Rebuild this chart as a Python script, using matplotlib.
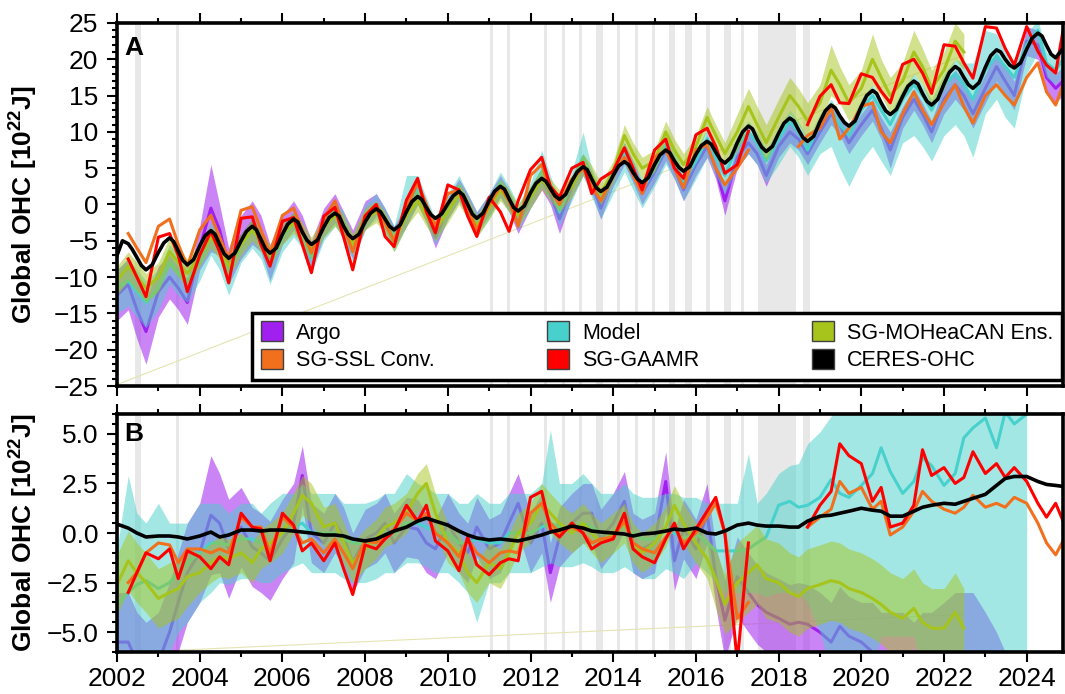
import numpy as np
import matplotlib
matplotlib.use('Agg')
import matplotlib.pyplot as plt
from matplotlib.patches import Patch
from matplotlib.ticker import MultipleLocator, FuncFormatter

plt.rcParams['font.family'] = ['Liberation Sans', 'DejaVu Sans']
plt.rcParams['mathtext.fontset'] = 'custom'
plt.rcParams['mathtext.rm'] = 'Liberation Sans:bold'
plt.rcParams['mathtext.it'] = 'Liberation Sans:bold'
plt.rcParams['mathtext.bf'] = 'Liberation Sans:bold'
plt.rcParams['mathtext.default'] = 'rm'

nan = np.nan

# sampling: 4 points per year (plus one at the right edge), 8 per year for CERES in A
years = np.arange(2002, 2025)
q_off = [0.0, 0.27, 0.48, 0.70]
s_off = [0.0, 0.13, 0.27, 0.37, 0.48, 0.59, 0.70, 0.85]
t_end = 2024.88
t_q = np.append(np.add.outer(years, q_off).ravel(), t_end)
t_s = np.add.outer(years, s_off).ravel()

# GRACE gaps (grey shading)
gaps = [(2002.43, 2002.59), (2003.43, 2003.51), (2011.01, 2011.09), (2011.43, 2011.51),
        (2012.33, 2012.41), (2012.75, 2012.83), (2013.17, 2013.24), (2013.59, 2013.75),
        (2014.09, 2014.16), (2014.52, 2014.59), (2014.94, 2015.02), (2015.34, 2015.50),
        (2015.74, 2015.91), (2016.25, 2016.33), (2016.67, 2016.85), (2017.09, 2017.17),
        (2017.50, 2018.43), (2018.58, 2018.77)]

# ---------------- panel A ----------------
ceres_a = [
    -7.0, -5.0, -5.4, -6.2, -7.3, -8.4, -9.0, -8.3,
    -6.6, -5.3, -4.6, -5.1, -6.4, -7.7, -8.3, -7.6,
    -5.7, -4.3, -3.6, -4.1, -5.5, -6.8, -7.4, -6.7,
    -5.0, -3.7, -3.0, -3.5, -4.8, -6.1, -6.7, -6.0,
    -4.1, -2.7, -2.0, -2.4, -3.8, -4.9, -5.5, -4.9,
    -3.1, -1.8, -1.2, -1.6, -3.0, -4.1, -4.7, -4.1,
    -2.4, -1.2, -0.6, -1.0, -2.0, -3.0, -3.5, -2.8,
    -1.0, 0.4, 1.1, 0.7, -0.4, -1.4, -1.9, -1.3,
    0.1, 1.2, 1.8, 1.3, 0.0, -1.3, -1.9, -1.2,
    0.5, 1.8, 2.5, 2.1, 0.8, -0.4, -0.9, -0.2,
    1.6, 2.9, 3.6, 3.2, 2.2, 1.2, 0.7, 1.4,
    3.2, 4.5, 5.2, 4.8, 3.5, 2.3, 1.8, 2.4,
    4.0, 5.3, 5.9, 5.5, 4.4, 3.5, 3.0, 3.7,
    5.5, 6.8, 7.5, 7.1, 6.0, 5.1, 4.6, 5.2,
    6.9, 8.1, 8.7, 8.3, 7.2, 6.2, 5.7, 6.5,
    8.5, 10.0, 10.8, 10.4, 9.0, 7.9, 7.3, 8.0,
    9.8, 11.2, 11.9, 11.5, 10.3, 9.2, 8.7, 9.4,
    11.4, 12.9, 13.7, 13.3, 12.2, 11.3, 10.8, 11.5,
    13.5, 15.0, 15.7, 15.3, 14.0, 12.9, 12.4, 13.1,
    14.9, 16.3, 17.0, 16.6, 15.3, 14.2, 13.7, 14.5,
    16.6, 18.2, 19.0, 18.6, 17.5, 16.5, 16.0, 16.8,
    18.9, 20.5, 21.3, 21.0, 20.0, 19.2, 18.8, 19.5,
    21.4, 22.9, 23.6, 23.2, 21.9, 20.7, 20.2, 21.3]

argo_a = [
    -12.5, -11.0, -14.5, -17.5,
    -12.0, -10.0, -11.5, -13.5,
    -6.0, -0.5, -3.5, -8.5,
    -4.5, -2.5, -4.0, -8.0,
    -3.5, -1.5, -3.5, -7.0,
    -2.5, -0.5, -3.0, -5.5,
    -1.5, 0.0, -2.0, -4.5,
    -1.5, 1.5, -1.0, -4.5,
    -0.5, 2.0, 0.0, -2.5,
    0.0, 2.5, 0.5, -2.5,
    1.0, 3.5, 1.5, -2.0,
    2.5, 5.5, 3.0, -0.5,
    4.0, 7.0, 4.5, 1.5,
    4.5, 7.5, 5.0, 2.0,
    5.5, 8.0, 5.0, 0.5,
    6.5, 8.5, 7.0, 4.0,
    8.0, 10.0, 9.0, 7.0,
    10.0, 12.5, 11.0, 8.5,
    11.0, 13.0, 10.5, 7.5,
    12.0, 14.5, 12.5, 10.0,
    14.5, 16.5, 15.0, 12.5,
    16.0, 19.0, 17.0, 15.0,
    22.5, 22.0, 17.5, 16.0,
    17.0]
argo_spread_a = [
    3.5, 3.5, 4.0, 4.5,
    3.5, 3.0, 3.0, 3.0,
    3.0, 6.0, 3.5, 2.5,
    3.0, 3.0, 2.5, 2.5,
    2.0, 2.0, 2.0, 2.0,
    2.0, 2.0, 2.0, 2.0,
    2.0, 1.5, 1.5, 1.5,
    1.5, 1.5, 1.5, 1.5,
    1.5, 1.5, 1.5, 1.5,
    1.5, 1.5, 1.5, 1.5,
    1.5, 1.5, 1.5, 2.0,
    1.5, 1.5, 1.5, 1.5,
    1.5, 1.5, 1.5, 1.5,
    1.5, 1.5, 1.5, 1.5,
    1.5, 1.5, 1.5, 2.0,
    1.5, 1.5, 1.5, 1.5,
    1.5, 1.5, 1.5, 1.5,
    1.5, 1.5, 1.5, 1.5,
    1.5, 1.5, 1.5, 2.5,
    1.5, 1.5, 1.5, 1.5,
    2.0, 2.0, 2.0, 2.0,
    2.0, 2.0, 2.0, 2.0,
    2.0, 2.0, 2.0, 2.0,
    2.0]

model_a = [
    -11.5, -10.5, -12.0, -13.5,
    -11.5, -8.0, -9.5, -10.5,
    -8.0, -4.5, -6.0, -9.5,
    -5.5, -3.5, -5.0, -8.5,
    -4.5, -2.5, -4.0, -7.5,
    -3.0, -1.0, -2.5, -6.0,
    -1.5, 0.0, -2.0, -4.5,
    -1.0, 2.0, -0.5, -3.5,
    0.0, 2.5, 0.0, -2.5,
    0.0, 3.0, 1.0, -1.5,
    1.5, 4.5, 2.5, -1.0,
    3.0, 6.5, 3.5, 0.5,
    4.0, 7.0, 4.5, 2.0,
    5.0, 8.0, 6.0, 3.0,
    6.0, 9.0, 6.5, 4.0,
    8.0, 10.0, 8.5, 6.0,
    9.0, 11.5, 10.0, 7.5,
    11.0, 13.0, 11.0, 9.5,
    13.0, 15.0, 13.0, 11.0,
    14.5, 16.5, 15.0, 13.0,
    16.5, 18.0, 16.5, 14.5,
    18.5, 20.5, 19.0, 17.5,
    22.0, 24.0, 19.5, 18.5,
    20.0]
model_below_a = [
    3.5, 3.5, 3.5, 3.5,
    3.0, 3.0, 3.0, 3.0,
    2.5, 2.5, 3.0, 3.0,
    2.5, 2.5, 2.5, 2.5,
    2.0, 2.0, 2.0, 2.0,
    2.0, 2.0, 2.0, 2.0,
    2.0, 2.0, 2.0, 2.0,
    2.0, 2.0, 2.0, 2.0,
    2.0, 2.0, 2.0, 2.0,
    2.0, 2.0, 2.0, 2.0,
    2.0, 2.0, 2.0, 2.0,
    2.5, 2.5, 2.5, 2.5,
    2.5, 2.5, 2.5, 2.5,
    2.5, 2.5, 2.5, 2.5,
    2.5, 2.5, 2.5, 2.5,
    3.0, 3.0, 3.0, 3.0,
    3.5, 3.5, 3.5, 3.5,
    4.0, 5.0, 6.0, 7.0,
    7.0, 7.0, 7.0, 7.0,
    6.0, 7.0, 7.0, 7.0,
    7.0, 7.0, 7.0, 8.0,
    6.0, 6.0, 7.0, 7.0,
    4.0, 3.0, 2.0, 2.0,
    2.0]
model_above_a = [
    2.5, 3.0, 3.0, 3.0,
    2.5, 2.5, 2.5, 2.5,
    2.0, 2.0, 2.0, 2.0,
    1.5, 1.5, 1.5, 1.5,
    1.5, 1.5, 1.5, 1.5,
    1.5, 1.5, 1.5, 1.5,
    1.5, 1.5, 1.5, 1.5,
    5.0, 2.0, 1.5, 1.5,
    1.5, 1.5, 1.5, 1.5,
    1.5, 1.5, 1.5, 1.5,
    1.5, 3.0, 1.5, 1.5,
    1.5, 3.5, 1.5, 1.5,
    1.5, 1.5, 1.5, 1.5,
    1.5, 1.5, 1.5, 1.5,
    1.5, 1.5, 1.5, 1.5,
    1.5, 1.5, 1.5, 1.5,
    1.5, 1.5, 1.5, 1.5,
    1.5, 1.5, 1.5, 1.5,
    1.5, 1.5, 1.5, 1.5,
    1.5, 1.5, 1.5, 1.5,
    1.5, 2.0, 3.0, 5.0,
    5.5, 3.0, 2.0, 2.0,
    1.5, 1.5, 1.5, 1.5,
    1.5]

mohea_a = [
    -10.5, -8.5, -10.0, -11.5,
    -10.0, -6.5, -8.0, -9.5,
    -7.0, -4.5, -6.0, -8.5,
    -5.5, -3.5, -5.0, -7.0,
    -4.0, -2.5, -4.0, -6.0,
    -3.0, -1.5, -3.0, -5.5,
    -2.0, -1.0, -2.5, -5.0,
    -1.5, 0.5, -1.5, -3.5,
    -1.0, 1.5, -0.5, -3.0,
    -0.5, 2.0, 0.5, -1.5,
    1.0, 3.5, 2.0, 0.5,
    2.5, 5.5, 3.9, 1.5,
    4.5, 9.5, 7.0, 5.0,
    6.0, 10.0, 7.5, 5.5,
    8.0, 12.0, 9.5, 7.0,
    10.0, 13.5, 11.0, 8.5,
    12.0, 15.0, 13.5, 11.5,
    14.0, 18.5, 16.5, 14.0,
    16.0, 20.0, 17.5, 15.0,
    17.0, 21.0, 19.0, 16.0,
    18.5, 22.5, 21.0, nan,
    nan, nan, nan, nan,
    nan, nan, nan, nan,
    nan]
mohea_spread_a = [
    2.0, 2.0, 2.0, 2.0,
    2.0, 2.0, 2.0, 2.0,
    1.5, 1.5, 1.5, 1.5,
    1.5, 1.5, 1.5, 1.5,
    1.5, 1.5, 1.5, 1.5,
    1.5, 1.5, 1.5, 1.5,
    1.5, 1.5, 1.5, 1.5,
    1.5, 1.5, 1.5, 1.5,
    1.5, 1.5, 1.5, 1.5,
    1.5, 1.5, 1.5, 1.5,
    1.5, 1.5, 1.5, 1.5,
    1.5, 1.5, 1.5, 1.5,
    1.5, 1.5, 1.5, 1.5,
    1.5, 1.5, 1.5, 1.5,
    1.5, 1.5, 1.5, 1.5,
    2.5, 2.5, 2.5, 2.5,
    2.5, 2.5, 2.5, 2.5,
    2.5, 3.5, 2.5, 2.5,
    2.5, 3.5, 2.5, 2.5,
    2.5, 3.0, 2.5, 2.5,
    2.5, 2.5, 2.5, nan,
    nan, nan, nan, nan,
    nan, nan, nan, nan,
    nan]

ssl_a = [
    nan, -4.0, -6.0, -8.0,
    -3.0, -2.0, -5.5, -8.5,
    -3.5, -1.5, -4.5, -7.5,
    -0.8, -0.3, -3.5, -6.7,
    -1.5, -0.5, -3.5, -6.7,
    -2.0, 0.5, -3.0, -6.5,
    -1.5, 0.0, -2.5, -5.0,
    -0.5, 3.0, 0.0, -3.0,
    1.5, 2.0, -0.5, -3.5,
    0.0, 2.5, 0.5, -3.0,
    4.0, 5.5, 2.0, 0.0,
    3.5, 5.0, 2.5, 0.5,
    4.0, 6.5, 4.0, 1.5,
    6.5, 7.5, 5.0, 2.3,
    7.5, 8.2, 5.0, 2.7,
    5.0, 7.5, nan, nan,
    nan, nan, 8.0, 9.5,
    10.5, 13.3, 9.0, 10.5,
    13.5, 14.0, 10.0, 8.5,
    12.5, 15.5, 13.0, 11.0,
    14.0, 16.5, 13.5, 11.2,
    15.0, 16.5, 15.0, 13.7,
    17.5, 19.5, 15.5, 13.7,
    16.5]

gaamr_a = [
    nan, -7.5, -10.0, -12.7,
    -4.5, -4.0, -7.0, -12.0,
    -7.0, -3.7, -6.5, -10.8,
    -1.9, -1.7, -5.5, -8.5,
    -2.3, -1.8, -5.5, -9.4,
    -1.6, -0.4, -4.5, -9.0,
    -1.6, 0.0, -4.4, -5.8,
    0.6, 3.6, -1.0, -3.9,
    2.7, 2.0, -1.6, -4.4,
    1.0, -1.0, -3.7, 0.5,
    4.8, 6.5, 2.5, 1.0,
    5.0, 5.8, 1.5, 3.5,
    4.6, 7.8, 5.0, 2.0,
    7.5, 9.0, 5.0, 3.6,
    9.6, 10.5, 8.0, 4.3,
    5.5, 10.1, nan, nan,
    nan, nan, nan, 11.0,
    14.9, 16.5, 14.0, 13.9,
    18.0, 17.5, 15.6, 14.0,
    19.3, 20.0, 18.1, 15.3,
    22.0, 21.8, 19.5, 17.4,
    24.5, 24.3, 21.5, 19.2,
    24.5, 21.1, 19.2, 18.1,
    24.0]

# faint straight trace left by the MOHeaCAN band (first to last point)
trail_t = [2002.0, 2022.45]
trail_a = [-24.8, 20.5]
trail_b = [-6.05, -4.1]

# ---------------- panel B ----------------
ceres_b = [
    0.45, 0.25, 0.0, -0.2,
    -0.15, -0.15, -0.2, -0.3,
    -0.15, 0.05, -0.2, -0.1,
    0.15, 0.15, 0.1, 0.15,
    0.15, 0.1, 0.05, 0.0,
    -0.1, -0.1, -0.15, -0.3,
    -0.4, -0.3, -0.1, 0.1,
    0.3, 0.6, 0.75, 0.6,
    0.4, 0.1, -0.1, -0.25,
    -0.35, -0.3, -0.35, -0.4,
    -0.25, -0.1, 0.05, 0.15,
    0.35, 0.25, 0.1, 0.05,
    0.0, -0.05, -0.15, -0.05,
    0.0, 0.1, 0.2, 0.15,
    0.25, 0.0, -0.05, 0.1,
    0.4, 0.5, 0.4, 0.35,
    0.35, 0.3, 0.3, 0.6,
    0.85, 0.9, 1.0, 1.1,
    1.25, 1.15, 1.1, 0.85,
    0.85, 1.1, 1.3, 1.4,
    1.5, 1.45, 1.6, 1.75,
    1.95, 2.4, 2.75, 2.85,
    2.85, 2.6, 2.45, 2.4,
    2.35]

argo_b = [
    -5.5, -5.5, -6.5, -7.0,
    -6.5, -5.0, -3.5, -2.0,
    -1.0, 0.9, 0.5, -0.8,
    0.3, -0.7, -1.0, -1.4,
    -0.3, 0.5, 2.9, 0.0,
    -0.5, 0.5, -0.2, -1.5,
    -0.3, 0.0, 0.5, -0.5,
    0.3, 0.2, -0.5, -0.8,
    0.5, -0.5, -1.0, 0.3,
    -0.8, -0.5, 0.5, 1.5,
    -0.5, 0.5, -2.0, -0.2,
    0.5, 1.0, 1.0, -0.3,
    0.5, 1.6, -0.5, -0.8,
    -0.5, 2.6, -1.4, 0.2,
    -0.8, 1.0, -2.2, -4.4,
    -2.2, -3.0, -3.6, -4.0,
    -4.3, -4.6, -4.5, -4.6,
    -5.0, -5.5, -4.7, -5.2,
    -5.5, -6.0, -6.5, -7.0,
    -7.0, -7.5, -7.5, -8.0,
    -8.0, -8.0, -8.5, -8.5,
    -8.5, -9.0, -9.0, -9.0,
    -9.0, -9.5, -9.5, -9.5,
    -9.5]
argo_spread_b = [
    2.5, 2.5, 2.5, 2.5,
    2.5, 2.5, 2.5, 2.5,
    2.5, 3.0, 2.5, 2.5,
    2.0, 2.0, 2.0, 2.0,
    2.0, 2.0, 1.5, 1.5,
    1.5, 1.5, 1.5, 1.5,
    1.5, 1.5, 1.5, 1.5,
    1.5, 1.5, 1.5, 1.5,
    1.5, 1.5, 1.5, 1.5,
    1.5, 1.5, 1.5, 1.5,
    1.5, 1.5, 1.5, 1.5,
    1.5, 1.5, 1.5, 1.5,
    1.5, 1.5, 1.5, 1.5,
    1.5, 1.5, 1.5, 1.5,
    1.5, 1.5, 1.5, 2.0,
    2.0, 2.0, 2.0, 2.0,
    2.0, 2.0, 2.0, 2.0,
    2.0, 2.0, 2.0, 2.0,
    2.0, 2.5, 2.5, 3.0,
    3.0, 3.0, 3.5, 4.0,
    4.5, 5.0, 5.5, 5.5,
    4.5, 4.0, 3.0, 2.5,
    3.0, 3.0, 3.0, 3.0,
    3.0]

model_b = [
    -3.6, -3.0, -2.6, -2.4,
    -2.8, -2.5, -2.0, -1.5,
    -1.0, -0.5, -0.5, -0.6,
    -0.3, -0.3, -0.5, -0.5,
    0.0, 0.3, 0.5, 0.0,
    0.0, 0.0, -0.3, -0.5,
    -0.5, -0.3, 0.0, 0.0,
    0.5, 0.5, 0.3, 0.0,
    0.0, -0.5, -0.5, -0.3,
    -0.5, -0.5, 0.0, 0.0,
    0.0, 0.3, 0.5, 0.3,
    0.3, 0.5, 0.3, 0.0,
    0.0, 0.3, 0.0, -0.3,
    -0.3, 0.2, 0.0, -0.3,
    0.0, -0.5, -0.9, -0.9,
    -0.9, -0.8, -0.5, -0.2,
    1.4, 1.6, 1.3, 1.4,
    1.8, 2.7, 2.0, 1.8,
    2.4, 3.0, 4.3, 3.1,
    2.0, 2.6, 3.8, 3.4,
    2.4, 3.0, 4.8, 5.3,
    5.8, 4.3, 6.1, 5.5,
    6.0, nan, nan, nan,
    nan]
model_lo_b = [
    -6.6, -6.5, -6.6, -6.4,
    -6.3, -6.0, -5.0, -4.5,
    -3.5, -3.0, -2.5, -2.6,
    -2.3, -2.3, -2.5, -2.5,
    -2.0, -1.7, -1.5, -2.0,
    -2.0, -2.0, -2.3, -2.5,
    -2.5, -2.3, -2.0, -2.0,
    -1.5, -1.5, -1.7, -2.0,
    -2.0, -2.5, -3.0, -4.5,
    -2.5, -2.5, -2.0, -2.0,
    -2.0, -1.7, -1.5, -1.7,
    -1.7, -1.5, -1.7, -2.0,
    -2.0, -1.7, -2.0, -2.3,
    -2.3, -1.8, -2.0, -2.3,
    -1.5, -2.0, -2.5, -3.0,
    -3.0, -3.0, -3.0, -3.2,
    -3.0, -3.0, -3.0, -3.5,
    -5.0, -7.0, -7.0, -7.0,
    -7.0, -7.0, -5.2, -5.2,
    -5.2, -5.2, -7.0, -7.0,
    -7.0, -7.0, -7.0, -7.0,
    -7.0, -7.0, -7.0, -7.0,
    -7.0, nan, nan, nan,
    nan]
model_hi_b = [
    -0.8, 2.9, 1.0, 0.5,
    1.5, 0.5, 0.5, 0.5,
    1.5, 1.5, 1.5, 1.0,
    1.5, 1.5, 1.0, 1.5,
    2.0, 2.0, 2.5, 2.0,
    2.0, 2.0, 1.5, 1.5,
    1.5, 1.7, 2.0, 2.0,
    3.0, 2.5, 2.3, 2.0,
    2.0, 1.5, 1.5, 2.0,
    1.5, 1.5, 2.0, 2.0,
    2.0, 2.5, 5.2, 2.5,
    2.5, 3.0, 2.5, 2.0,
    2.0, 2.5, 2.0, 1.8,
    1.8, 2.0, 2.0, 1.8,
    1.8, 1.5, 1.5, 1.5,
    1.5, 4.0, 1.5, 2.0,
    3.0, 3.4, 3.5, 4.5,
    5.1, 5.9, 7.0, 7.0,
    7.0, 7.0, 7.0, 7.0,
    7.0, 7.0, 7.0, 7.0,
    7.0, 7.0, 7.0, 7.0,
    7.0, 7.0, 7.0, 7.0,
    7.0, nan, nan, nan,
    nan]

mohea_b = [
    -2.6, -1.4, -2.0, -2.5,
    -3.3, -3.0, -2.8, -2.2,
    -2.0, -1.5, -1.2, -1.3,
    -1.0, -1.5, -0.8, -0.5,
    0.0, 1.0, 1.9, 1.5,
    0.3, 0.5, -0.5, -1.5,
    -0.8, -0.3, 0.3, 0.5,
    1.0, 2.0, 2.5, 1.0,
    -0.5, -1.0, -2.0, -2.5,
    -1.5, -1.8, -1.0, 0.0,
    0.5, 1.5, 1.0, 0.5,
    0.0, 0.5, 0.0, -0.5,
    0.0, 0.5, -0.5, -1.0,
    -0.5, 0.3, 1.4, 0.5,
    -0.5, -1.3, -2.3, -3.6,
    -2.5, -2.0, -1.6, -2.3,
    -2.5, -3.0, -3.2, -2.8,
    -2.6, -2.4, -2.5, -2.8,
    -3.0, -3.3, -3.6, -4.0,
    -4.3, -3.8, -4.5, -4.8,
    -4.8, -4.0, -4.8, nan,
    nan, nan, nan, nan,
    nan, nan, nan, nan,
    nan]
mohea_spread_b = [
    1.5, 1.5, 1.5, 1.5,
    1.5, 1.5, 1.5, 1.5,
    1.0, 1.0, 1.0, 1.0,
    1.0, 1.0, 1.0, 1.0,
    1.0, 1.0, 1.0, 1.0,
    1.0, 1.0, 1.0, 1.0,
    1.0, 1.0, 1.0, 1.0,
    1.0, 1.0, 1.0, 1.0,
    1.0, 1.0, 1.0, 1.0,
    1.0, 1.0, 1.0, 1.0,
    1.0, 1.0, 1.0, 1.0,
    1.0, 1.0, 1.0, 1.0,
    1.0, 1.0, 1.0, 1.0,
    1.0, 1.0, 1.0, 1.0,
    1.0, 1.0, 1.5, 1.5,
    2.0, 2.0, 2.0, 2.0,
    2.0, 2.0, 2.0, 2.0,
    2.0, 2.0, 2.0, 2.0,
    2.0, 2.0, 2.0, 2.0,
    2.0, 2.0, 2.0, 2.0,
    2.0, 2.0, 2.0, nan,
    nan, nan, nan, nan,
    nan, nan, nan, nan,
    nan]

ssl_b = [
    nan, -2.5, -2.0, -1.0,
    -0.5, -0.6, -1.5, -0.8,
    -0.8, -1.0, -0.8, -1.0,
    0.8, 0.3, 0.3, -1.0,
    0.8, 0.3, -0.5, -0.3,
    -1.0, -0.3, -1.0, -1.8,
    -0.4, -0.5, -0.2, 0.2,
    1.0, 0.6, 1.0, 0.0,
    -0.5, -1.2, -0.3, -1.0,
    -1.5, -1.0, -0.9, -1.0,
    1.0, 1.5, 0.5, 0.0,
    0.3, 0.0, -0.5, -0.3,
    -0.2, 0.6, -0.5, -0.8,
    -1.0, -0.2, 0.3, -0.5,
    0.0, 0.8, 1.5, 0.0,
    -4.3, -3.5, nan, nan,
    nan, nan, nan, 0.3,
    0.8, 1.2, 2.6, 2.0,
    2.3, 1.2, 1.6, -0.1,
    0.3, 1.1, 2.1, 1.6,
    1.2, 1.0, 1.3, 1.9,
    1.3, 1.5, 1.3, 1.8,
    1.5, 0.5, -0.5, -1.1,
    -0.4]

gaamr_b = [
    nan, -3.0, -2.0, -1.0,
    -1.3, -0.8, -2.3, -0.9,
    -1.2, -1.8, -1.2, -1.6,
    1.0, 0.3, 0.2, -1.4,
    1.0, 0.4, -0.9, -0.5,
    -1.4, -0.5, -1.8, -3.1,
    -0.6, -0.8, -0.3, 0.1,
    1.4, 0.6, 1.4, -0.4,
    -0.9, -1.9, -0.2, -1.6,
    -2.1, -1.5, -1.3, -1.4,
    1.8, 2.1, 0.2, -0.2,
    0.5, 0.0, -0.8, -0.5,
    -0.3, 1.0, -0.8, -1.2,
    -1.5, -0.3, 0.5, -0.8,
    0.2, 1.1, 1.8, 0.0,
    -6.5, -0.5, nan, nan,
    nan, nan, nan, 0.3,
    1.4, 2.1, 4.5, 3.9,
    3.5, 1.6, 2.3, 0.3,
    0.5, 1.4, 4.2, 2.9,
    3.3, 2.5, 2.8, 4.1,
    3.0, 3.5, 2.8, 3.3,
    2.6, 1.5, 0.8, 1.5,
    0.6]

for name, arr in list(globals().items()):
    if name.endswith(('_a', '_b')) and not name.startswith('trail') and name != 'ceres_a':
        assert len(arr) == len(t_q), (name, len(arr))
assert len(ceres_a) == len(t_s)

c_argo = '#a020f0'
c_model = '#48d1cc'
c_mohea = '#a6c41c'
c_ssl = '#f0701e'
c_gaamr = '#ff0000'
c_gap = '#e8e8e8'

fig = plt.figure(figsize=(10.65, 6.94), dpi=100)
axA = fig.add_axes([0.1099, 0.4438, 0.8883, 0.5231])
axB = fig.add_axes([0.1099, 0.0605, 0.8883, 0.3429])


def draw_panel(ax, argo, argo_sp, m_lo, model, m_hi, mohea, mohea_sp,
               ssl, gaamr, t_c, ceres, trail):
    argo = np.array(argo)
    mohea = np.array(mohea)
    for a, b in gaps:
        ax.axvspan(a, b, color=c_gap, lw=0, zorder=0)
    ax.plot(trail_t, trail, color='#e4e4b4', lw=0.8, zorder=0.5)
    ax.fill_between(t_q, argo - argo_sp, argo + argo_sp, color=c_argo,
                    alpha=0.55, lw=0, zorder=1)
    ax.plot(t_q, argo, color=c_argo, lw=2.2, zorder=2)
    ax.fill_between(t_q, m_lo, m_hi, color=c_model, alpha=0.5, lw=0, zorder=3)
    ax.plot(t_q, model, color=c_model, lw=2.2, zorder=4)
    ax.fill_between(t_q, mohea - mohea_sp, mohea + mohea_sp, color=c_mohea,
                    alpha=0.5, lw=0, zorder=5)
    ax.plot(t_q, mohea, color=c_mohea, lw=2.2, zorder=6)
    ax.plot(t_q, ssl, color=c_ssl, lw=2.2, zorder=7)
    ax.plot(t_q, gaamr, color=c_gaamr, lw=2.2, zorder=8)
    ax.plot(t_c, ceres, color='black', lw=2.6, zorder=9)

    ax.set_xlim(2002, t_end)
    ax.xaxis.set_major_locator(MultipleLocator(2))
    ax.xaxis.set_minor_locator(MultipleLocator(1))
    ax.tick_params(which='both', direction='out', top=True, bottom=True,
                   left=True, right=False, labelsize=19, width=1.5)
    ax.tick_params(which='major', length=7.5)
    ax.tick_params(which='minor', length=3.8)
    ax.tick_params(axis='y', pad=6)
    ax.tick_params(axis='x', pad=3)
    for s in ax.spines.values():
        s.set_linewidth(2.6)
        s.set_zorder(20)
    ax.set_ylabel('Global OHC [10$^{22}$J]', fontsize=19, fontweight='bold')
    ax.yaxis.set_label_coords(-0.081, 0.5)


draw_panel(axA, argo_a, np.array(argo_spread_a),
           np.array(model_a) - np.array(model_below_a), model_a,
           np.array(model_a) + np.array(model_above_a),
           mohea_a, np.array(mohea_spread_a), ssl_a, gaamr_a, t_s, ceres_a, trail_a)
draw_panel(axB, argo_b, np.array(argo_spread_b), model_lo_b, model_b, model_hi_b,
           mohea_b, np.array(mohea_spread_b), ssl_b, gaamr_b, t_q, ceres_b, trail_b)

axA.set_ylim(-25, 25)
axA.yaxis.set_major_locator(MultipleLocator(5))
axA.yaxis.set_minor_locator(MultipleLocator(1))
axA.tick_params(labelbottom=False)

axB.set_ylim(-6, 6)
axB.yaxis.set_major_locator(MultipleLocator(2.5))
axB.yaxis.set_minor_locator(MultipleLocator(0.5))
axB.yaxis.set_major_formatter(FuncFormatter(lambda v, p: f'{v:.1f}'.replace('-', '\u2212')))

for ax, lab in ((axA, 'A'), (axB, 'B')):
    ax.text(0.008, 0.965, lab, transform=ax.transAxes, ha='left', va='top',
            fontsize=19, fontweight='bold', zorder=30)

handles = [Patch(facecolor=c, edgecolor='#404040', lw=1.0)
           for c in (c_argo, c_ssl, c_model, c_gaamr, c_mohea, 'black')]
labels = ['Argo', 'SG-SSL Conv.', 'Model', 'SG-GAAMR', 'SG-MOHeaCAN Ens.', 'CERES-OHC']
leg = axA.legend(handles, labels, ncol=3, loc='lower left',
                 bbox_to_anchor=(0.1427, 0.0165, 0.8563, 0.1875), mode='expand',
                 fontsize=15.5, frameon=True, fancybox=False, edgecolor='black',
                 framealpha=1, borderaxespad=0, handlelength=1.05, handleheight=1.05,
                 handletextpad=0.6, labelspacing=0.25, borderpad=0.4)
leg.get_frame().set_linewidth(2.5)
leg.set_zorder(40)

fig.savefig('out.png', dpi=100)
